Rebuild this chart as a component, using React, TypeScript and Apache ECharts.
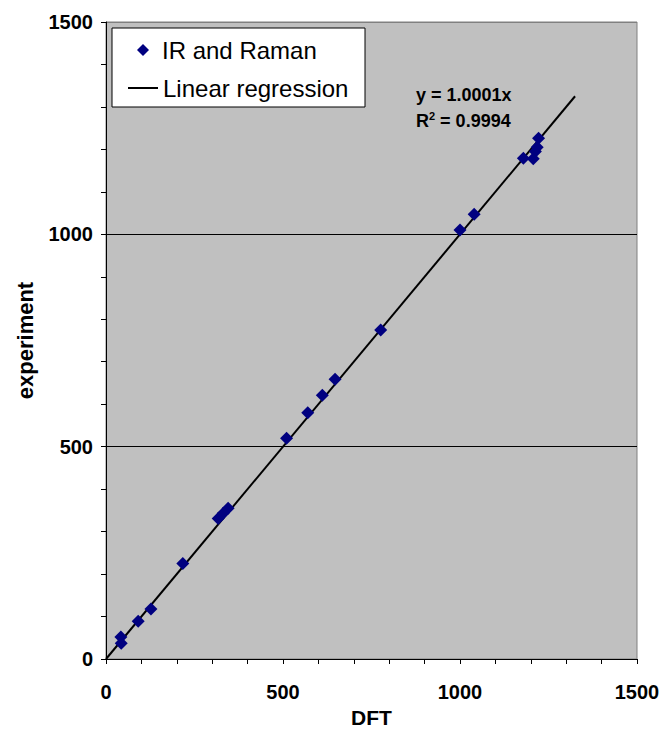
import React, { useEffect, useRef } from "react";
import * as echarts from "echarts";

// Calculated (DFT) vs. observed (IR / Raman) frequencies, cm-1
const dftValues = [42, 43, 91, 127, 217, 317, 331, 345, 510, 570, 611, 647, 776, 1000, 1040, 1179, 1207, 1213, 1218, 1222];
const expValues = [52, 37, 89, 118, 225, 331, 343, 355, 520, 580, 621, 659, 775, 1010, 1047, 1179, 1178, 1195, 1205, 1226];

// Fitted trend through the origin
const slope = 1.0001;
const rSquared = 0.9994;
const trendEndX = 1325;

const axisTicks = [0, 500, 1000, 1500];

const FONT = "Arial, 'Liberation Sans', Helvetica, sans-serif";

export default function App() {
  const ref = useRef<HTMLDivElement>(null);

  useEffect(() => {
    if (!ref.current) return;
    const chart = echarts.init(ref.current, null, { renderer: "svg" });

    const points = dftValues.map((x, i) => [x, expValues[i]]);
    const trend = [
      [0, 0],
      [trendEndX, trendEndX * slope],
    ];

    const axisCommon = {
      type: "value" as const,
      min: axisTicks[0],
      max: axisTicks[axisTicks.length - 1],
      interval: 500,
      axisLine: { show: true, onZero: false, lineStyle: { color: "#000", width: 1 } },
      axisTick: { show: true, inside: false, length: 5, lineStyle: { color: "#000" } },
      minorTick: { show: true, splitNumber: 5, length: 5, lineStyle: { color: "#000" } },
      axisLabel: {
        fontFamily: FONT,
        fontWeight: "bold" as const,
        fontSize: 20,
        color: "#000",
        formatter: (v: number) => String(v),
      },
    };

    const nameStyle = (size: number) => ({
      fontFamily: FONT,
      fontWeight: "bold" as const,
      fontSize: size,
      color: "#000",
    });

    chart.setOption({
      animation: false,
      grid: {
        left: 106,
        top: 22,
        width: 531,
        height: 637,
        show: true,
        backgroundColor: "#C0C0C0",
        borderColor: "#808080",
        borderWidth: 1,
      },
      xAxis: {
        ...axisCommon,
        name: "DFT",
        nameLocation: "middle",
        nameGap: 48,
        nameTextStyle: nameStyle(21),
        axisLabel: { ...axisCommon.axisLabel, margin: 23 },
        splitLine: { show: false },
      },
      yAxis: {
        ...axisCommon,
        name: "experiment",
        nameLocation: "middle",
        nameGap: 70,
        nameTextStyle: nameStyle(22),
        axisLabel: { ...axisCommon.axisLabel, margin: 13 },
        splitLine: {
          show: true,
          lineStyle: { color: ["#000000", "#000000", "#000000", "#808080"], width: 1 },
        },
      },
      legend: [
        {
          data: ["IR and Raman"],
          left: 137,
          top: 38,
          padding: 0,
          itemWidth: 12,
          itemHeight: 12,
          z: 20,
          textStyle: { fontFamily: FONT, fontSize: 24, color: "#000", padding: [0, 0, 0, 8] },
        },
        {
          data: [{ name: "Linear regression", icon: "rect" }],
          left: 128,
          top: 76,
          padding: 0,
          itemWidth: 30,
          itemHeight: 2,
          z: 20,
          itemStyle: { color: "#000" },
          textStyle: { fontFamily: FONT, fontSize: 24, color: "#000" },
        },
      ],
      graphic: [
        {
          type: "rect",
          z: 10,
          shape: { x: 112, y: 28, width: 253, height: 79 },
          style: { fill: "#fff", stroke: "#000", lineWidth: 1 },
        },
        {
          type: "text",
          z: 10,
          x: 416,
          y: 95,
          style: {
            text: `y = ${slope.toFixed(4)}x`,
            fontFamily: FONT,
            fontWeight: "bold",
            fontSize: 18,
            fill: "#000",
            verticalAlign: "middle",
          },
        },
        {
          type: "text",
          z: 10,
          x: 416,
          y: 121,
          style: {
            text: `R{sup|2} = ${rSquared.toFixed(4)}`,
            fontFamily: FONT,
            fontWeight: "bold",
            fontSize: 18,
            fill: "#000",
            verticalAlign: "middle",
            rich: {
              sup: {
                fontFamily: FONT,
                fontWeight: "bold",
                fontSize: 11,
                fill: "#000",
                verticalAlign: "top",
                padding: [0, 0, 10, 0],
              },
            },
          },
        },
      ],
      series: [
        {
          name: "IR and Raman",
          type: "scatter",
          data: points,
          symbol: "diamond",
          symbolSize: 13,
          itemStyle: { color: "#000080", opacity: 1 },
          z: 5,
        },
        {
          name: "Linear regression",
          type: "line",
          data: trend,
          symbol: "none",
          lineStyle: { color: "#000", width: 2 },
          itemStyle: { color: "#000" },
          z: 4,
        },
      ],
    });

    return () => chart.dispose();
  }, []);

  return (
    <div
      ref={ref}
      style={{ position: "fixed", left: 0, top: 0, width: 663, height: 733, background: "#fff" }}
    />
  );
}
